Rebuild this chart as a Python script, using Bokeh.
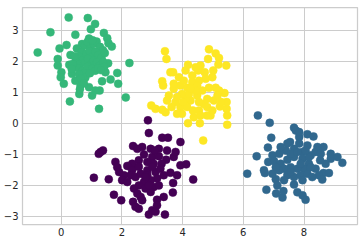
from bokeh.plotting import figure
from bokeh.models import FixedTicker, CustomJSTickFormatter, Range1d
from bokeh.embed import file_html
from bokeh.resources import INLINE

# cluster labels (viridis colours by label)
labels = ["0", "1", "2", "3"]
colors = ["#440154", "#31688e", "#35b779", "#fde725"]

# cluster 0 (purple)
x0 = [2.86, 2.89, 3.93, 3.33, 3.52, 1.30, 1.38, 1.24, 1.08, 1.57, 1.79, 1.85, 1.91, 1.74, 1.98, 2.37,
      2.45, 2.56, 2.89, 3.00, 3.11, 3.42, 3.16, 3.38, 3.68, 3.69, 3.82, 3.60, 3.93, 4.12, 4.35, 3.71,
      3.77, 3.49, 3.22, 2.95, 2.67, 2.37, 2.51, 2.73, 3.00, 3.22, 3.46, 3.31, 3.05, 2.84, 2.56, 2.34,
      2.18, 2.34, 2.29, 2.45, 2.62, 2.84, 3.11, 3.27, 3.38, 3.16, 2.95, 2.73, 2.56, 2.40, 2.51, 2.78,
      3.05, 3.22, 2.84, 3.00, 2.56, 2.07, 2.01, 2.18, 2.62, 2.95, 2.89, 2.67, 3.16, 2.78, 3.08]
y0 = [0.10, -0.31, -0.60, -0.46, -0.46, -0.92, -0.87, -0.98, -1.75, -1.80, -1.24, -1.41, -1.57, -2.30, -2.48, -2.53,
      -2.69, -2.75, -2.94, -2.80, -2.85, -2.94, -2.46, -2.37, -2.23, -1.92, -1.67, -1.59, -1.35, -1.32, -1.81, -1.08,
      -0.92, -0.87, -0.82, -0.82, -0.76, -0.73, -0.82, -1.00, -1.08, -1.06, -1.17, -1.30, -1.30, -1.24, -1.19, -1.30,
      -1.37, -1.51, -1.67, -1.73, -1.62, -1.51, -1.57, -1.46, -1.67, -1.78, -1.83, -1.89, -2.00, -2.10, -2.26, -2.10,
      -2.05, -2.00, -1.67, -1.40, -1.40, -1.67, -1.83, -1.89, -2.37, -2.21, -2.00, -2.48, -2.64, -1.73, -0.87]

# cluster 1 (blue)
x1 = [6.48, 6.87, 6.13, 6.44, 6.76, 7.08, 7.29, 7.32, 7.78, 7.95, 8.05, 7.67, 6.92, 6.81, 6.82, 6.68,
      6.71, 7.07, 7.12, 7.67, 7.73, 8.11, 8.31, 7.84, 7.54, 7.84, 8.11, 8.64, 8.88, 8.88, 9.10, 9.26,
      8.71, 8.64, 8.49, 8.60, 8.82, 8.38, 8.53, 8.38, 8.22, 7.95, 7.67, 7.40, 7.18, 6.96, 7.01, 7.23,
      7.45, 7.67, 7.95, 8.16, 8.00, 7.78, 7.56, 7.34, 7.18, 7.45, 7.67, 7.89, 8.11, 8.27, 7.95, 7.34,
      7.56, 7.89, 8.16, 8.44, 7.45, 7.23, 7.78, 8.05, 8.55, 7.07, 6.96, 7.56, 8.22, 7.84]
y1 = [0.26, 0.02, -1.62, -1.06, -2.14, -2.26, -2.39, -2.18, -2.22, -2.32, -2.46, -1.97, -0.46, -0.78, -1.24, -1.51,
      -1.60, -1.80, -2.00, -0.14, -0.23, -0.35, -0.42, -0.44, -0.60, -0.65, -0.71, -0.76, -0.98, -1.14, -1.08, -1.27,
      -1.30, -1.60, -1.67, -1.81, -1.60, -1.46, -1.19, -0.92, -1.03, -0.92, -0.82, -0.87, -0.98, -1.03, -1.21, -1.30,
      -1.17, -1.08, -1.14, -1.30, -1.46, -1.46, -1.41, -1.46, -1.51, -1.67, -1.73, -1.67, -1.62, -1.73, -1.83, -1.83,
      -0.98, -1.30, -1.08, -0.76, -0.65, -0.76, -0.92, -0.87, -0.98, -1.41, -1.62, -1.57, -1.41, -0.28]

# cluster 2 (green)
x2 = [-0.77, -0.35, 0.25, 0.88, 1.12, 0.98, 0.47, 1.41, 1.52, 1.56, 1.67, -0.05, 0.18, 2.25, -0.11, -0.11,
      0.01, -0.01, 0.09, 0.29, 0.60, 0.92, 1.02, 1.25, 2.13, 1.88, 1.85, 1.63, 1.35, 1.46, 1.55, 1.27,
      1.13, 0.64, 0.47, 0.36, 0.27, 0.31, 0.69,
      0.52, 0.68, 0.78, 0.87, 0.97, 1.08, 1.17, 1.28, 1.38, 0.58, 0.73, 0.83, 0.93, 1.03, 1.13, 1.22,
      1.33, 1.44, 0.48, 0.62, 0.79, 0.88, 0.99, 1.07, 1.18, 1.27, 1.38, 0.55, 0.71, 0.86, 1.02, 1.12,
      1.22, 0.38, 0.44, 0.92, 1.04, 0.76, 0.60, 1.42, 1.31, 0.35, 0.80, 0.95, 0.65, 0.75, 0.62]
y2 = [2.29, 2.94, 3.42, 3.40, 3.21, 3.04, 2.86, 2.92, 2.75, 2.59, 2.48, 2.42, 2.53, 1.95, 2.08, 1.87,
      1.65, 1.49, 1.28, 0.71, 0.95, 1.17, 0.90, 0.47, 0.84, 1.28, 1.63, 1.42, 1.36, 1.65, 1.94, 1.06,
      1.06, 1.22, 1.38, 1.60, 1.89, 2.21, 2.56,
      2.42, 2.31, 2.52, 2.63, 2.41, 2.57, 2.64, 2.47, 2.36, 2.17, 2.06, 2.24, 2.33, 2.16, 2.31, 2.21,
      2.13, 2.27, 1.98, 1.92, 1.97, 2.09, 1.92, 2.03, 1.97, 1.86, 1.99, 1.79, 1.71, 1.83, 1.77, 1.70,
      1.78, 1.92, 2.17, 2.74, 2.68, 1.63, 1.58, 1.83, 1.72, 1.76, 1.48, 1.62, 1.45, 1.30, 1.10]

# cluster 3 (yellow)
x3 = [3.42, 3.47, 4.87, 5.09, 5.20, 4.84, 5.44, 5.18, 5.01, 4.18, 4.51, 4.73, 3.60, 3.69, 3.88, 3.33,
      3.36, 2.97, 3.11, 3.33, 3.44, 4.68, 5.47, 5.47, 5.45, 5.45, 5.23, 5.03, 5.38, 5.09, 5.20, 4.18,
      4.57, 4.37, 4.81, 4.92, 4.70, 4.81, 3.93, 3.77, 3.55, 3.71, 3.93, 4.15, 4.32, 4.54, 4.76, 4.87,
      4.65, 4.48, 4.26, 4.10, 3.98, 3.82, 4.15, 4.34, 4.54, 4.59, 4.32, 4.48, 4.04, 4.21, 4.54, 3.98,
      3.82, 3.64, 3.49, 3.71, 4.10, 4.43, 4.59, 4.98, 5.15, 5.27, 4.81, 4.98, 4.02, 4.43, 4.26]
y3 = [2.33, 2.08, 2.39, 2.26, 2.11, 2.08, 1.87, 1.90, 1.71, 1.89, 1.71, 1.65, 1.65, 1.65, 1.49, 1.36,
      1.22, 0.58, 0.47, 0.44, 0.36, -0.55, -0.04, 0.26, 0.47, 0.69, 0.55, 0.74, 0.98, 1.15, 1.06, 0.01,
      0.01, 0.20, 0.26, 0.26, 0.63, 0.79, 0.53, 0.69, 0.90, 1.12, 1.22, 1.15, 1.33, 1.38, 1.44, 1.15,
      1.06, 0.90, 0.74, 0.79, 0.95, 0.85, 0.53, 0.42, 0.42, 0.26, 1.55, 1.22, 1.38, 0.95, 0.69, 0.31,
      0.31, 0.53, 0.74, 1.28, 1.71, 1.81, 1.87, 1.49, 0.90, 0.69, 0.53, 0.42, 0.69, 1.06, 1.12]

# axis ticks
x_ticks = [0, 2, 4, 6, 8]
y_ticks = [-3, -2, -1, 0, 1, 2, 3]

p = figure(width=364, height=244, output_backend="svg", toolbar_location=None,
           x_range=Range1d(-1.27, 9.76), y_range=Range1d(-3.26, 3.74),
           min_border_left=22, min_border_right=7, min_border_top=7, min_border_bottom=20)

p.background_fill_color = "white"
p.border_fill_color = "white"
p.outline_line_color = "#cccccc"
p.outline_line_width = 1.25

for xs, ys, c in zip([x0, x1, x2, x3], [y0, y1, y2, y3], colors):
    p.scatter(xs, ys, size=8, fill_color=c, line_color=c, line_width=0.5)

fmt = CustomJSTickFormatter(code="return tick < 0 ? '\\u2212' + Math.abs(tick) : String(tick);")

for ax, ticks in ((p.xaxis, x_ticks), (p.yaxis, y_ticks)):
    ax.ticker = FixedTicker(ticks=ticks)
    ax.formatter = fmt
    ax.axis_line_color = None
    ax.major_tick_line_color = None
    ax.minor_tick_line_color = None
    ax.major_tick_out = 0
    ax.major_tick_in = 0
    ax.major_label_text_font = "DejaVu Sans"
    ax.major_label_text_font_size = "10px"
    ax.major_label_text_color = "#262626"

p.xaxis.major_label_standoff = 3
p.yaxis.major_label_standoff = 4

p.xgrid.ticker = FixedTicker(ticks=x_ticks)
p.ygrid.ticker = FixedTicker(ticks=y_ticks)
p.grid.grid_line_color = "#cccccc"
p.grid.grid_line_width = 1

open("out.html", "w").write(file_html(p, INLINE))
